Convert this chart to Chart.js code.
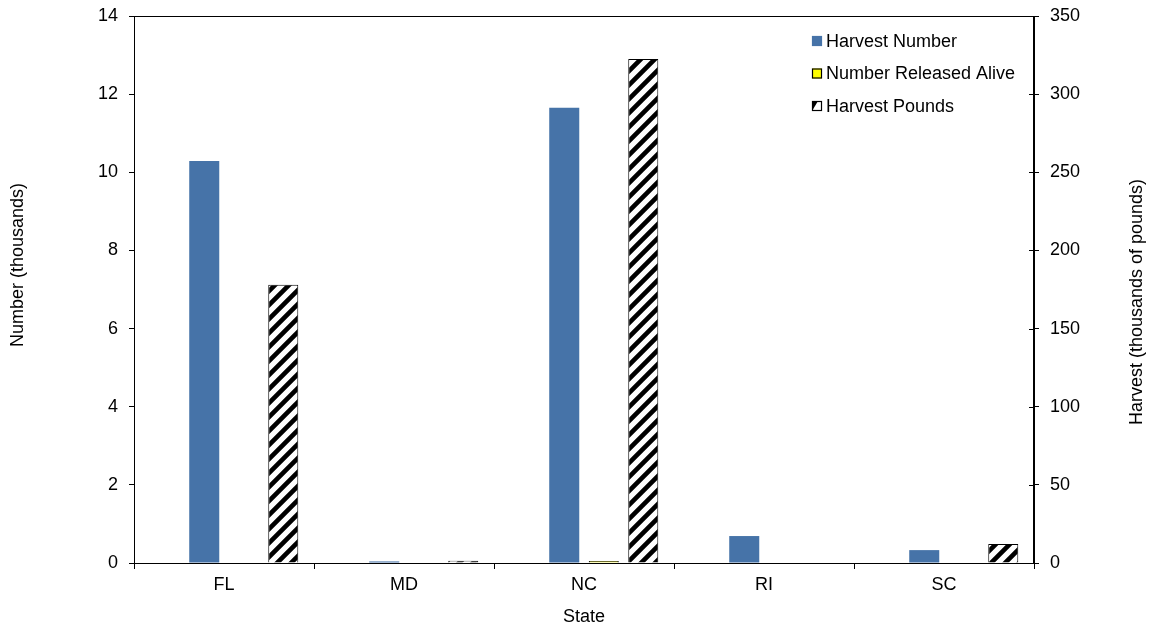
<!DOCTYPE html>
<html>
<head>
<meta charset="utf-8">
<script src="https://cdn.jsdelivr.net/npm/chart.js@4"></script>
<style>
  html, body { margin: 0; padding: 0; background: #fff; }
  #wrap { width: 1150px; height: 628px; }
</style>
</head>
<body>
<div id="wrap"><canvas id="myChart" width="1150" height="628"></canvas></div>
<script>
// data
const states = ['FL', 'MD', 'NC', 'RI', 'SC'];
const harvestNumber = [10.29, 0.04, 11.65, 0.69, 0.33];      // thousands
const releasedAlive = [0, 0, 0.05, 0, 0];                    // thousands
const harvestPounds = [178, 1.5, 322.5, 0, 12.2];            // thousands of pounds
const leftTicks = [0, 2, 4, 6, 8, 10, 12, 14];
const rightTicks = [0, 50, 100, 150, 200, 250, 300, 350];

const FONT = 'Liberation Sans, Arial, sans-serif';
const FS = 18;
const blue = '#4673a8';

// diagonal hatch for the pounds bars
function makeHatch() {
    const c = document.createElement('canvas');
    const s = 14;
    c.width = s; c.height = s;
    const g = c.getContext('2d');
    g.fillStyle = '#fff';
    g.fillRect(0, 0, s, s);
    g.strokeStyle = '#000';
    g.lineWidth = 4.6;
    g.beginPath();
    g.moveTo(-3, s + 3); g.lineTo(s + 3, -3);
    g.moveTo(-3, 3); g.lineTo(3, -3);
    g.moveTo(s - 3, s + 3); g.lineTo(s + 3, s - 3);
    g.stroke();
    return g.createPattern(c, 'repeat');
}

const ctx = document.getElementById('myChart').getContext('2d');
const hatch = makeHatch();

function vText(c, text, x, y) {
    c.save();
    c.translate(x, y);
    c.rotate(-Math.PI / 2);
    c.fillText(text, 0, 0);
    c.restore();
}

// plot frame, inner right ticks, axis titles and legend
const framePlugin = {
    id: 'frame',
    afterDraw(chart) {
        const a = chart.chartArea;
        const c = chart.ctx;
        c.save();
        c.strokeStyle = '#000';
        c.lineWidth = 1;
        c.strokeRect(Math.round(a.left) + 0.5, Math.round(a.top) + 0.5,
                     Math.round(a.right - a.left) - 1, Math.round(a.bottom - a.top));
        // right axis ticks cross the axis
        const y2 = chart.scales.y2;
        rightTicks.forEach(v => {
            const y = Math.round(y2.getPixelForValue(v)) + 0.5;
            c.beginPath();
            c.moveTo(a.right - 5, y); c.lineTo(a.right, y);
            c.stroke();
        });
        // axis titles, reading upwards
        c.font = FS + 'px ' + FONT;
        c.fillStyle = '#000';
        c.textAlign = 'center';
        c.textBaseline = 'middle';
        vText(c, 'Number (thousands)', 18, 265);
        vText(c, 'Harvest (thousands of pounds)', 1137, 302);
        // legend
        const items = [
            { label: 'Harvest Number', fill: blue, border: blue },
            { label: 'Number Released Alive', fill: '#ffff00', border: '#000' },
            { label: 'Harvest Pounds', fill: 'hatch', border: '#000' }
        ];
        c.textAlign = 'left';
        items.forEach((it, i) => {
            const y = 41 + i * 32.5;
            const x = 812;
            if (it.fill === 'hatch') {
                c.fillStyle = '#fff';
                c.fillRect(x, y - 5, 10, 10);
                c.fillStyle = '#000';
                c.beginPath();
                c.moveTo(x, y + 5); c.lineTo(x, y - 5); c.lineTo(x + 6, y - 5);
                c.closePath(); c.fill();
            } else {
                c.fillStyle = it.fill;
                c.fillRect(x, y - 5, 10, 10);
            }
            c.strokeStyle = it.border;
            c.lineWidth = 1.2;
            c.strokeRect(x + 0.5, y - 4.5, 9, 9);
            c.fillStyle = '#000';
            c.fillText(it.label, x + 14, y + 1);
        });
        c.restore();
    }
};

new Chart(ctx, {
    type: 'bar',
    data: {
        labels: states,
        datasets: [
            {
                label: '',
                data: states.map(() => null),
                backgroundColor: 'rgba(0,0,0,0)'
            },
            {
                label: 'Harvest Number',
                data: harvestNumber,
                backgroundColor: blue,
                yAxisID: 'y'
            },
            {
                label: 'Number Released Alive',
                data: releasedAlive,
                backgroundColor: '#ffff00',
                borderColor: '#000',
                borderWidth: 1,
                yAxisID: 'y'
            },
            {
                label: 'Harvest Pounds',
                data: harvestPounds,
                backgroundColor: hatch,
                borderColor: '#000',
                borderWidth: 1,
                yAxisID: 'y2'
            }
        ]
    },
    options: {
        responsive: false,
        animation: false,
        categoryPercentage: 0.878,
        barPercentage: 0.76,
        layout: { padding: { top: 16, left: 0, right: 0, bottom: 0 } },
        plugins: {
            legend: { display: false },
            tooltip: { enabled: false }
        },
        scales: {
            x: {
                grid: {
                    offset: true,
                    drawOnChartArea: false,
                    color: '#000',
                    tickLength: 6
                },
                border: { color: '#000' },
                ticks: {
                    color: '#000',
                    font: { family: FONT, size: FS },
                    padding: 5
                },
                title: {
                    display: true,
                    text: 'State',
                    color: '#000',
                    font: { family: FONT, size: FS },
                    padding: { top: 6, bottom: 0 }
                },
                afterFit: s => { s.height = 65; s.paddingLeft = 0; s.paddingRight = 0; }
            },
            y: {
                position: 'left',
                min: 0,
                max: 14,
                afterBuildTicks: s => { s.ticks = leftTicks.map(v => ({ value: v })); },
                grid: {
                    drawOnChartArea: false,
                    color: '#000',
                    tickLength: 5
                },
                border: { color: '#000' },
                ticks: {
                    color: '#000',
                    font: { family: FONT, size: FS },
                    padding: 11
                },
                afterFit: s => { s.width = 134; s.paddingTop = 0; s.paddingBottom = 0; }
            },
            y2: {
                position: 'right',
                min: 0,
                max: 350,
                afterBuildTicks: s => { s.ticks = rightTicks.map(v => ({ value: v })); },
                grid: {
                    drawOnChartArea: false,
                    color: '#000',
                    tickLength: 5
                },
                border: { color: '#000' },
                ticks: {
                    color: '#000',
                    font: { family: FONT, size: FS },
                    padding: 11
                },
                afterFit: s => { s.width = 116; s.paddingTop = 0; s.paddingBottom = 0; }
            }
        }
    },
    plugins: [framePlugin]
});
</script>
</body>
</html>
